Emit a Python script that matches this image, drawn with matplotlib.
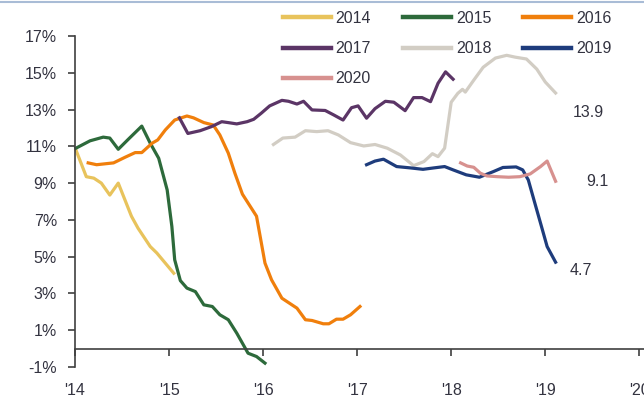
import matplotlib.pyplot as plt
from matplotlib.lines import Line2D

plt.rcParams['font.family'] = ['Liberation Sans', 'DejaVu Sans']

# x values are years after the start of 2014, y values are growth in %
x_2014 = [0.01, 0.12, 0.20, 0.28, 0.37, 0.46, 0.53, 0.60, 0.67, 0.80, 0.87, 1.05]
y_2014 = [10.8, 9.35, 9.27, 9.0, 8.35, 9.0, 8.1, 7.2, 6.55, 5.55, 5.2, 4.1]

x_2015 = [0.01, 0.16, 0.30, 0.37, 0.46, 0.57, 0.71, 0.80, 0.89, 0.98, 1.03, 1.06,
          1.12, 1.19, 1.28, 1.37, 1.46, 1.54, 1.63, 1.72, 1.84, 1.93, 2.02]
y_2015 = [10.9, 11.3, 11.5, 11.45, 10.84, 11.4, 12.1, 11.17, 10.35, 8.63, 6.64, 4.83,
          3.7, 3.29, 3.1, 2.38, 2.29, 1.84, 1.57, 0.84, -0.25, -0.43, -0.79]

x_2016 = [0.14, 0.23, 0.41, 0.53, 0.64, 0.71, 0.82, 0.88, 0.96, 1.06, 1.19, 1.26,
          1.37, 1.47, 1.54, 1.63, 1.70, 1.78, 1.83, 1.93, 2.02, 2.09, 2.20, 2.36,
          2.45, 2.52, 2.64, 2.70, 2.78, 2.85, 2.93, 3.03]
y_2016 = [10.1, 10.0, 10.1, 10.4, 10.66, 10.66, 11.17, 11.35, 11.89, 12.43, 12.65, 12.55,
          12.29, 12.16, 11.62, 10.63, 9.54, 8.4, 8.0, 7.2, 4.65, 3.74, 2.74, 2.2,
          1.57, 1.53, 1.35, 1.35, 1.6, 1.6, 1.84, 2.29]

x_2017 = [1.11, 1.20, 1.33, 1.45, 1.56, 1.63, 1.72, 1.83, 1.90, 1.98, 2.07, 2.20,
          2.27, 2.36, 2.43, 2.52, 2.66, 2.75, 2.85, 2.94, 3.01, 3.10, 3.19, 3.30,
          3.39, 3.51, 3.60, 3.69, 3.78, 3.86, 3.94, 4.02]
y_2017 = [12.55, 11.7, 11.85, 12.07, 12.34, 12.29, 12.22, 12.34, 12.47, 12.8, 13.2, 13.5,
          13.45, 13.3, 13.45, 12.98, 12.95, 12.71, 12.43, 13.1, 13.2, 12.53, 13.05, 13.45,
          13.4, 12.94, 13.65, 13.65, 13.43, 14.43, 15.05, 14.65]

x_2018 = [2.11, 2.21, 2.34, 2.45, 2.57, 2.69, 2.80, 2.93, 3.07, 3.19, 3.32, 3.46,
          3.60, 3.71, 3.80, 3.86, 3.93, 4.00, 4.07, 4.12, 4.15, 4.24, 4.34, 4.47,
          4.59, 4.68, 4.80, 4.91, 5.00, 5.11]
y_2018 = [11.1, 11.45, 11.5, 11.85, 11.8, 11.85, 11.62, 11.2, 11.02, 11.1, 10.9, 10.53,
          9.95, 10.17, 10.6, 10.44, 10.9, 13.4, 13.88, 14.1, 13.95, 14.6, 15.3, 15.8,
          15.95, 15.85, 15.75, 15.2, 14.5, 13.9]

x_2019 = [3.10, 3.19, 3.28, 3.42, 3.56, 3.70, 3.82, 3.93, 4.02, 4.16, 4.30, 4.45,
          4.55, 4.69, 4.76, 4.82, 4.89, 4.96, 5.02, 5.11]
y_2019 = [10.0, 10.2, 10.3, 9.9, 9.83, 9.75, 9.83, 9.9, 9.72, 9.45, 9.32, 9.63,
          9.85, 9.88, 9.72, 9.17, 7.9, 6.64, 5.55, 4.7]

x_2020 = [4.10, 4.17, 4.24, 4.31, 4.38, 4.49, 4.61, 4.73, 4.84, 4.95, 5.02, 5.11]
y_2020 = [10.1, 9.93, 9.86, 9.54, 9.39, 9.35, 9.32, 9.35, 9.5, 9.9, 10.2, 9.1]

year_ticks = [2014, 2015, 2016, 2017, 2018, 2019, 2020]
year_labels = ["'14", "'15", "'16", "'17", "'18", "'19", "'20"]
pct_ticks = [-1, 1, 3, 5, 7, 9, 11, 13, 15, 17]

series = [
    ('2014', x_2014, y_2014, '#E8C35C'),
    ('2015', x_2015, y_2015, '#2D6A3B'),
    ('2016', x_2016, y_2016, '#F07F0C'),
    ('2017', x_2017, y_2017, '#5B3566'),
    ('2018', x_2018, y_2018, '#D2CDC4'),
    ('2019', x_2019, y_2019, '#1E3C7C'),
    ('2020', x_2020, y_2020, '#D7918F'),
]

fig = plt.figure(figsize=(6.44, 4.01), dpi=100)
ax = fig.add_axes([75 / 644, 1 - 367 / 401, 1 - 75 / 644, 331 / 401])

lines = {}
for name, xs, ys, col in series:
    lines[name], = ax.plot([2014 + v for v in xs], ys, color=col, lw=2.3,
                           solid_joinstyle='round', label=name, clip_on=False)

ax.set_xlim(2014, 2020.05)
ax.set_ylim(-1, 17)
ax.set_yticks(pct_ticks)
ax.set_yticklabels([f'{t}%' for t in pct_ticks])
ax.set_xticks(year_ticks)
ax.set_xticklabels(year_labels)

for s in ['top', 'right']:
    ax.spines[s].set_visible(False)
ax.spines['bottom'].set_position(('data', 0))
for s in ['left', 'bottom']:
    ax.spines[s].set_color('#404040')
    ax.spines[s].set_linewidth(1.2)

txt = '#333340'
ax.tick_params(axis='y', direction='out', length=5, width=1.2, color='#404040',
               labelsize=11.5, labelcolor=txt, pad=8)
ax.tick_params(axis='x', direction='out', length=5, width=1.2, color='#404040',
               labelsize=11.5, labelcolor=txt, pad=20)
for lab in ax.get_xticklabels():
    lab.set_clip_on(False)

# end-of-line values
ax.annotate('13.9', (2014 + x_2018[-1], y_2018[-1]), xytext=(12, -14),
            textcoords='offset points', fontsize=11.5, color=txt, va='center')
ax.annotate('9.1', (2014 + x_2020[-1], y_2020[-1]), xytext=(22, 0),
            textcoords='offset points', fontsize=11.5, color=txt, va='center')
ax.annotate('4.7', (2014 + x_2019[-1], y_2019[-1]), xytext=(10, -6),
            textcoords='offset points', fontsize=11.5, color=txt, va='center')

order = ['2014', '2017', '2020', '2015', '2018', '2016', '2019']
leg = fig.legend([lines[k] for k in order], order, ncol=3, loc='upper left',
                 bbox_to_anchor=(283 / 644, 1 - 11 / 401), frameon=False,
                 fontsize=11.5, handlelength=3.0, handletextpad=0.3,
                 columnspacing=2.0, labelspacing=0.95, borderpad=0,
                 borderaxespad=0)
for h in leg.get_lines():
    h.set_linewidth(3.2)
for t in leg.get_texts():
    t.set_color(txt)

fig.add_artist(Line2D([0, 1], [1 - 2 / 401, 1 - 2 / 401], color='#A9BCD6', lw=1.5))

fig.savefig('out.png', dpi=100)
